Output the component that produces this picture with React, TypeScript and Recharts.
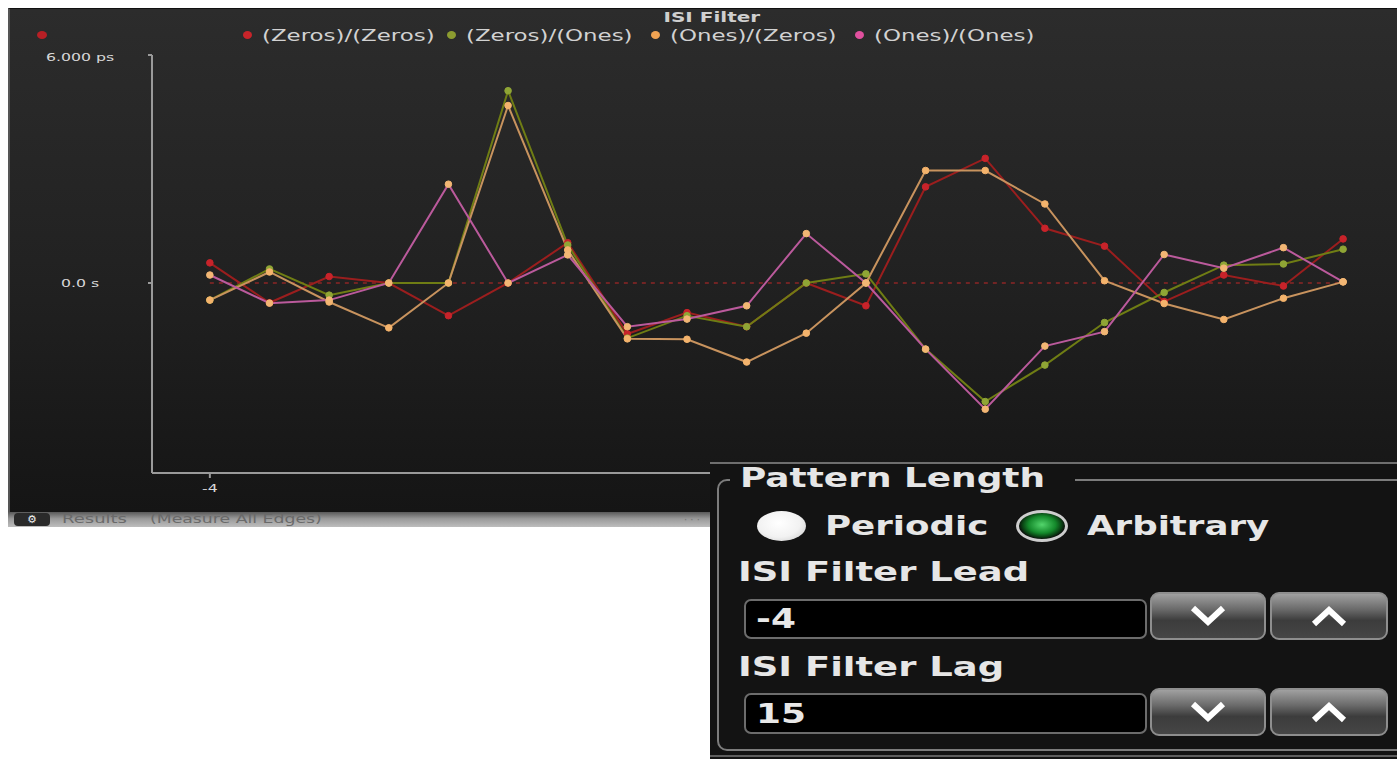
import React from "react";
import { LineChart, Line, XAxis, YAxis, ReferenceLine, Legend } from "recharts";

// ISI filter taps, lead -4 .. lag 15
const lags = [-4, -3, -2, -1, 0, 1, 2, 3, 4, 5, 6, 7, 8, 9, 10, 11, 12, 13, 14, 15];

// values in ps
const zerosZeros = [0.53, -0.52, 0.17, 0, -0.86, 0, 1.06, -1.34, -0.78, -1.15, 0, -0.6, 2.53, 3.28, 1.44, 0.97, -0.49, 0.21, -0.08, 1.16];
const zerosOnes = [-0.45, 0.37, -0.32, 0, 0, 5.06, 1.0, -1.45, -0.86, -1.15, 0, 0.24, -1.74, -3.12, -2.16, -1.04, -0.25, 0.47, 0.5, 0.89];
const onesZeros = [-0.45, 0.29, -0.5, -1.18, 0, 4.67, 0.87, -1.47, -1.48, -2.08, -1.32, 0, 2.96, 2.96, 2.08, 0.06, -0.54, -0.96, -0.4, 0.03];
const onesOnes = [0.21, -0.53, -0.45, 0, 2.6, 0, 0.74, -1.15, -0.95, -0.6, 1.3, 0, -1.74, -3.32, -1.66, -1.28, 0.75, 0.39, 0.93, 0.03];

const yTicks = [0, 6];
const xTicks = [-4];

const seriesList = [
  { key: "zz", name: "(Zeros)/(Zeros)", values: zerosZeros, line: "#9b1e1e", dot: "#c8232a", legend: "#c8242a" },
  { key: "zo", name: "(Zeros)/(Ones)", values: zerosOnes, line: "#6f7d14", dot: "#8fa535", legend: "#8c9c30" },
  { key: "oz", name: "(Ones)/(Zeros)", values: onesZeros, line: "#c8935e", dot: "#f4b36c", legend: "#f0a353" },
  { key: "oo", name: "(Ones)/(Ones)", values: onesOnes, line: "#bb5a9c", dot: "#f2b674", legend: "#e0509e" },
];

const chartData = lags.map((lag, i) => {
  const row: Record<string, number> = { lag };
  seriesList.forEach((s) => {
    row[s.key] = s.values[i];
  });
  return row;
});

const FONT = "'DejaVu Sans', Verdana, sans-serif";
const STRETCH = 1.43;

const formatY = (v: number) => (v === 0 ? "0.0 s" : `${v.toFixed(3)} ps`);

const YTick = (props: any) => {
  const { y, payload } = props;
  return (
    <text
      transform={`translate(80, ${y + (payload.value === 0 ? 0 : 2)}) scale(${STRETCH}, 1)`}
      textAnchor="middle"
      dominantBaseline="central"
      fill="#d8d8d8"
      fontSize={11}
      fontFamily={FONT}
    >
      {formatY(payload.value)}
    </text>
  );
};

const XTick = (props: any) => {
  const { x, y, payload } = props;
  return (
    <text
      transform={`translate(${x}, ${y + 8}) scale(${STRETCH}, 1)`}
      textAnchor="middle"
      dominantBaseline="central"
      fill="#d8d8d8"
      fontSize={11}
      fontFamily={FONT}
    >
      {payload.value}
    </text>
  );
};

const renderLegend = () => (
  <div style={{ position: "relative", width: 1397, height: 18, fontFamily: FONT }}>
    <span
      style={{
        position: "absolute",
        left: 37,
        top: 5,
        width: 10,
        height: 8,
        borderRadius: "50%",
        background: "#b81f25",
      }}
    />
    {seriesList.map((s, i) => (
      <div
        key={s.key}
        style={{
          position: "absolute",
          left: 243 + i * 204,
          top: 0,
          height: 18,
          display: "flex",
          alignItems: "center",
          whiteSpace: "nowrap",
        }}
      >
        <span
          style={{
            width: 9,
            height: 8,
            borderRadius: "50%",
            background: s.legend,
            marginRight: 10,
          }}
        />
        <span
          style={{
            display: "inline-block",
            transform: `scaleX(${STRETCH})`,
            transformOrigin: "left center",
            color: "#d2d2d2",
            fontSize: 16,
          }}
        >
          {s.name}
        </span>
      </div>
    ))}
  </div>
);

const stretchText = (scale: number): React.CSSProperties => ({
  display: "inline-block",
  transform: `scaleX(${scale})`,
  transformOrigin: "left center",
  whiteSpace: "nowrap",
});

const Chevron = ({ up }: { up?: boolean }) => (
  <svg width={38} height={22} viewBox="0 0 38 22">
    <polyline
      points={up ? "4,19 19,5 34,19" : "4,3 19,17 34,3"}
      fill="none"
      stroke="#ffffff"
      strokeWidth={6}
      strokeLinejoin="miter"
    />
  </svg>
);

const StepButton = ({ left, top, width, height, up }: any) => (
  <div
    style={{
      position: "absolute",
      left,
      top,
      width,
      height,
      boxSizing: "border-box",
      border: "2px solid #8e8e8e",
      borderRadius: 9,
      background: "linear-gradient(to bottom, #a0a0a0 0%, #6a6a6a 35%, #3c3c3c 60%, #464646 100%)",
      display: "flex",
      alignItems: "center",
      justifyContent: "center",
    }}
  >
    <Chevron up={up} />
  </div>
);

const labelStyle: React.CSSProperties = {
  position: "absolute",
  fontSize: 26,
  fontWeight: "bold",
  lineHeight: "30px",
  color: "#e6e6e6",
};

const FieldBox = ({ top, height, value }: any) => (
  <div
    style={{
      position: "absolute",
      left: 34,
      top,
      width: 403,
      height,
      boxSizing: "border-box",
      border: "2px solid #6c6c6c",
      borderRadius: 7,
      background: "#000",
      display: "flex",
      alignItems: "center",
      paddingLeft: 10,
    }}
  >
    <span style={{ ...stretchText(1.38), fontSize: 26, fontWeight: "bold", color: "#e8e8e8" }}>{value}</span>
  </div>
);

const App: React.FC = () => {
  return (
    <div
      style={{
        position: "absolute",
        left: 0,
        top: 0,
        width: 1397,
        height: 759,
        background: "#ffffff",
        overflow: "hidden",
        fontFamily: FONT,
      }}
    >
      {/* chart panel */}
      <div
        style={{
          position: "absolute",
          left: 8,
          top: 8,
          width: 1389,
          height: 504,
          boxSizing: "border-box",
          borderLeft: "2px solid #555",
          borderTop: "1px solid #111",
          background: "linear-gradient(to bottom, #2c2c2c 0%, #222 50%, #151515 100%)",
        }}
      />
      <div
        style={{
          position: "absolute",
          left: 0,
          width: 1424,
          top: 9,
          textAlign: "center",
          color: "#cfcfcf",
          fontSize: 14,
          fontWeight: "bold",
          lineHeight: "16px",
        }}
      >
        <span style={{ display: "inline-block", transform: `scaleX(${STRETCH})` }}>ISI Filter</span>
      </div>
      <div style={{ position: "absolute", left: 0, top: 0 }}>
        <LineChart
          width={1397}
          height={512}
          data={chartData}
          margin={{ top: 55, right: 5, left: 0, bottom: 0 }}
        >
          <XAxis
            dataKey="lag"
            type="number"
            domain={[-4.97, 15.82]}
            ticks={xTicks}
            allowDataOverflow
            height={39}
            stroke="#9a9a9a"
            strokeWidth={2}
            tickSize={5}
            tick={<XTick />}
          />
          <YAxis
            type="number"
            domain={[-5, 6]}
            ticks={yTicks}
            allowDataOverflow
            width={152}
            stroke="#9a9a9a"
            strokeWidth={2}
            tickSize={4}
            tick={<YTick />}
          />
          <ReferenceLine
            segment={[
              { x: -4, y: 0 },
              { x: 15, y: 0 },
            ]}
            stroke="#8c2626"
            strokeWidth={1.5}
            strokeDasharray="4 5"
          />
          <Legend
            layout="horizontal"
            verticalAlign="middle"
            align="center"
            content={renderLegend}
            wrapperStyle={{ top: 26, left: 0, width: 1397, height: 18 }}
          />
          {seriesList.map((s) => (
            <Line
              key={s.key}
              dataKey={s.key}
              name={s.name}
              type="linear"
              stroke={s.line}
              strokeWidth={2}
              dot={{ r: 3.3, fill: s.dot, stroke: s.dot, strokeWidth: 1 }}
              activeDot={false}
              isAnimationActive={false}
            />
          ))}
        </LineChart>
      </div>

      {/* status strip */}
      <div
        style={{
          position: "absolute",
          left: 8,
          top: 512,
          width: 702,
          height: 15,
          overflow: "hidden",
          background: "linear-gradient(to bottom, #5a5a5a 0%, #9a9a9a 45%, #bdbdbd 100%)",
        }}
      >
        <div
          style={{
            position: "absolute",
            left: 6,
            top: 1,
            width: 36,
            height: 13,
            borderRadius: 4,
            background: "#2a2a2a",
            color: "#f0f0f0",
            fontSize: 11,
            lineHeight: "13px",
            textAlign: "center",
          }}
        >
          ⚙
        </div>
        <span style={{ position: "absolute", left: 54, top: 1, fontSize: 12, lineHeight: "13px", color: "#6a6a6a", ...stretchText(1.5) }}>
          Results
        </span>
        <span style={{ position: "absolute", left: 142, top: 1, fontSize: 12, lineHeight: "13px", color: "#6a6a6a", ...stretchText(1.44) }}>
          (Measure All Edges)
        </span>
        <span style={{ position: "absolute", left: 676, top: 1, fontSize: 10, lineHeight: "13px", color: "#777" }}>· · ·</span>
      </div>

      {/* settings panel */}
      <div
        style={{
          position: "absolute",
          left: 710,
          top: 462,
          width: 687,
          height: 297,
          background: "#131313",
          borderTop: "2px solid #6e6e6e",
          boxSizing: "border-box",
          overflow: "hidden",
        }}
      >
        <div
          style={{
            position: "absolute",
            left: 7,
            top: 15,
            width: 700,
            height: 272,
            boxSizing: "border-box",
            border: "2px solid #7c7c7c",
            borderRadius: 10,
          }}
        />
        <div style={{ position: "absolute", left: 20, top: 0, width: 345, height: 30, background: "#131313" }} />
        <div style={{ ...labelStyle, left: 30, top: -1 }}>
          <span style={stretchText(1.38)}>Pattern Length</span>
        </div>

        <div
          style={{
            position: "absolute",
            left: 47,
            top: 47,
            width: 49,
            height: 30,
            borderRadius: "50%",
            background: "radial-gradient(ellipse at 45% 40%, #ffffff 0%, #f2f2f2 55%, #c4c4c4 100%)",
          }}
        />
        <div style={{ ...labelStyle, left: 115, top: 47 }}>
          <span style={stretchText(1.37)}>Periodic</span>
        </div>
        <div
          style={{
            position: "absolute",
            left: 306,
            top: 46,
            width: 52,
            height: 32,
            boxSizing: "border-box",
            borderRadius: "50%",
            border: "3px solid #cdcdcd",
            background: "radial-gradient(ellipse at 50% 45%, #53d56c 0%, #14892b 42%, #0a4314 60%, #0b0b0b 72%)",
          }}
        />
        <div style={{ ...labelStyle, left: 377, top: 47 }}>
          <span style={stretchText(1.37)}>Arbitrary</span>
        </div>

        <div style={{ ...labelStyle, left: 28, top: 93 }}>
          <span style={stretchText(1.42)}>ISI Filter Lead</span>
        </div>
        <FieldBox top={135} height={40} value="-4" />
        <StepButton left={440} top={128} width={116} height={48} />
        <StepButton left={560} top={128} width={118} height={48} up />

        <div style={{ ...labelStyle, left: 28, top: 188 }}>
          <span style={stretchText(1.42)}>ISI Filter Lag</span>
        </div>
        <FieldBox top={229} height={41} value="15" />
        <StepButton left={440} top={224} width={116} height={48} />
        <StepButton left={560} top={224} width={118} height={48} up />

        <div style={{ position: "absolute", left: 0, top: 291, width: 687, height: 2, background: "#5e5e5e" }} />
      </div>
    </div>
  );
};

export default App;
